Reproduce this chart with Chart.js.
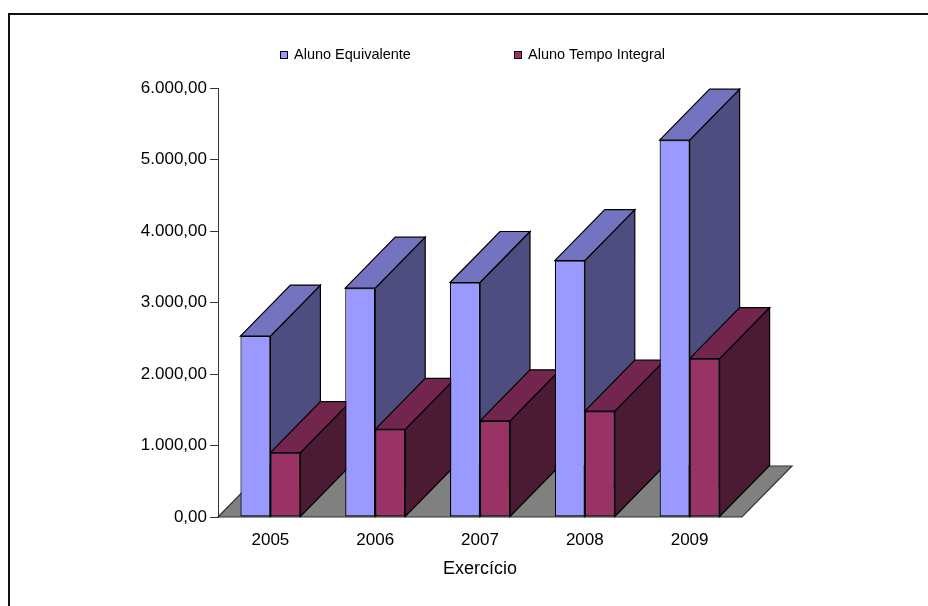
<!DOCTYPE html>
<html>
<head>
<meta charset="utf-8">
<script src="https://cdn.jsdelivr.net/npm/chart.js@4/dist/chart.umd.min.js"></script>
<style>
  html, body { margin: 0; padding: 0; background: #fff; }
  #wrap { width: 928px; height: 606px; position: relative; }
</style>
</head>
<body>
<div id="wrap"><canvas id="c" width="928" height="606"></canvas></div>
<script>
// Dados do gráfico
const categories = ['2005', '2006', '2007', '2008', '2009'];
const alunoEquivalente = [2530, 3200, 3280, 3585, 5270];
const alunoTempoIntegral = [900, 1225, 1345, 1480, 2215];
const seriesNames = ['Aluno Equivalente', 'Aluno Tempo Integral'];
const yTickValues = [0, 1000, 2000, 3000, 4000, 5000, 6000];
const axisTitle = 'Exercício';

// Cores: frente, topo, lateral
const palette = [
  { front: '#9999FF', top: '#7373BF', side: '#4D4D80' },
  { front: '#993366', top: '#73264D', side: '#4B1A33' }
];

const FONT = "'Liberation Sans', Arial, sans-serif";
const DX = 50, DY = -51; // profundidade da perspectiva

function formatBR(v) {
  const int = Math.floor(Math.abs(v)).toString().replace(/\B(?=(\d{3})+(?!\d))/g, '.');
  const dec = Math.round((Math.abs(v) % 1) * 100).toString().padStart(2, '0');
  return (v < 0 ? '-' : '') + int + ',' + dec;
}

function poly(ctx, pts, fill) {
  ctx.beginPath();
  ctx.moveTo(pts[0][0], pts[0][1]);
  for (let i = 1; i < pts.length; i++) ctx.lineTo(pts[i][0], pts[i][1]);
  ctx.closePath();
  ctx.fillStyle = fill;
  ctx.fill();
  ctx.stroke();
}

// Desenha piso, faces laterais/topo das colunas, moldura e legenda
const box3d = {
  id: 'box3d',
  beforeDraw(chart) {
    const ctx = chart.ctx;
    ctx.save();
    ctx.strokeStyle = '#111';
    ctx.lineWidth = 2;
    ctx.strokeRect(9, 14, 1000, 1000);
    ctx.restore();
  },
  beforeDatasetsDraw(chart) {
    const { ctx, scales: { x, y } } = chart;
    const b = y.getPixelForValue(0);
    ctx.save();
    ctx.lineWidth = 1.2;
    ctx.lineJoin = 'miter';
    // piso
    ctx.strokeStyle = '#333';
    poly(ctx, [[x.left, b], [x.right, b], [x.right + DX, b + DY], [x.left + DX, b + DY]], '#808080');
    ctx.strokeStyle = '#000';
    for (let i = 0; i < categories.length; i++) {
      chart.data.datasets.forEach((ds, d) => {
        const el = chart.getDatasetMeta(d).data[i];
        const p = el.getProps(['x', 'y', 'base', 'width'], true);
        const l = p.x - p.width / 2, r = p.x + p.width / 2;
        const t = p.y, bs = p.base;
        poly(ctx, [[r, t], [r + DX, t + DY], [r + DX, bs + DY], [r, bs]], palette[d].side);
        poly(ctx, [[l, t], [l + DX, t + DY], [r + DX, t + DY], [r, t]], palette[d].top);
      });
    }
    ctx.restore();
  },
  afterDraw(chart) {
    const ctx = chart.ctx;
    const items = [{ x: 280, tx: 294 }, { x: 514, tx: 528 }];
    ctx.save();
    ctx.font = '14.5px ' + FONT;
    ctx.textBaseline = 'middle';
    chart.data.datasets.forEach((ds, d) => {
      ctx.fillStyle = palette[d].front;
      ctx.fillRect(items[d].x, 51, 7, 7);
      ctx.strokeStyle = '#000';
      ctx.lineWidth = 1;
      ctx.strokeRect(items[d].x + 0.5, 51.5, 7, 7);
      ctx.fillStyle = '#000';
      ctx.fillText(ds.label, items[d].tx, 55);
    });
    ctx.restore();
  }
};

new Chart(document.getElementById('c'), {
  type: 'bar',
  data: {
    labels: categories,
    datasets: [
      { label: seriesNames[0], data: alunoEquivalente, backgroundColor: palette[0].front,
        borderColor: '#000', borderWidth: 1.2, borderSkipped: false },
      { label: seriesNames[1], data: alunoTempoIntegral, backgroundColor: palette[1].front,
        borderColor: '#000', borderWidth: 1.2, borderSkipped: false }
    ]
  },
  options: {
    responsive: false,
    animation: false,
    devicePixelRatio: 1,
    layout: { padding: { left: 0, right: 186, top: 88, bottom: 0 } },
    datasets: { bar: { categoryPercentage: 0.5725, barPercentage: 1 } },
    plugins: { legend: { display: false }, tooltip: { enabled: false } },
    scales: {
      x: {
        grid: { display: false, drawTicks: false },
        border: { display: false },
        ticks: { color: '#000', font: { family: FONT, size: 17 }, padding: 13 },
        title: { display: true, text: axisTitle, color: '#000',
                 font: { family: FONT, size: 18 }, padding: { top: 0, bottom: 26 } },
        afterFit(scale) { scale.height = 89; }
      },
      y: {
        min: 0, max: 6000,
        afterBuildTicks(scale) { scale.ticks = yTickValues.map(v => ({ value: v })); },
        grid: { display: true, drawOnChartArea: false, drawTicks: true, tickLength: 8, color: '#333' },
        border: { display: true, color: '#333', width: 1 },
        ticks: { color: '#000', font: { family: FONT, size: 17 }, padding: 3,
                 callback: v => formatBR(v) },
        afterFit(scale) { scale.width = 218; }
      }
    }
  },
  plugins: [box3d]
});
</script>
</body>
</html>
